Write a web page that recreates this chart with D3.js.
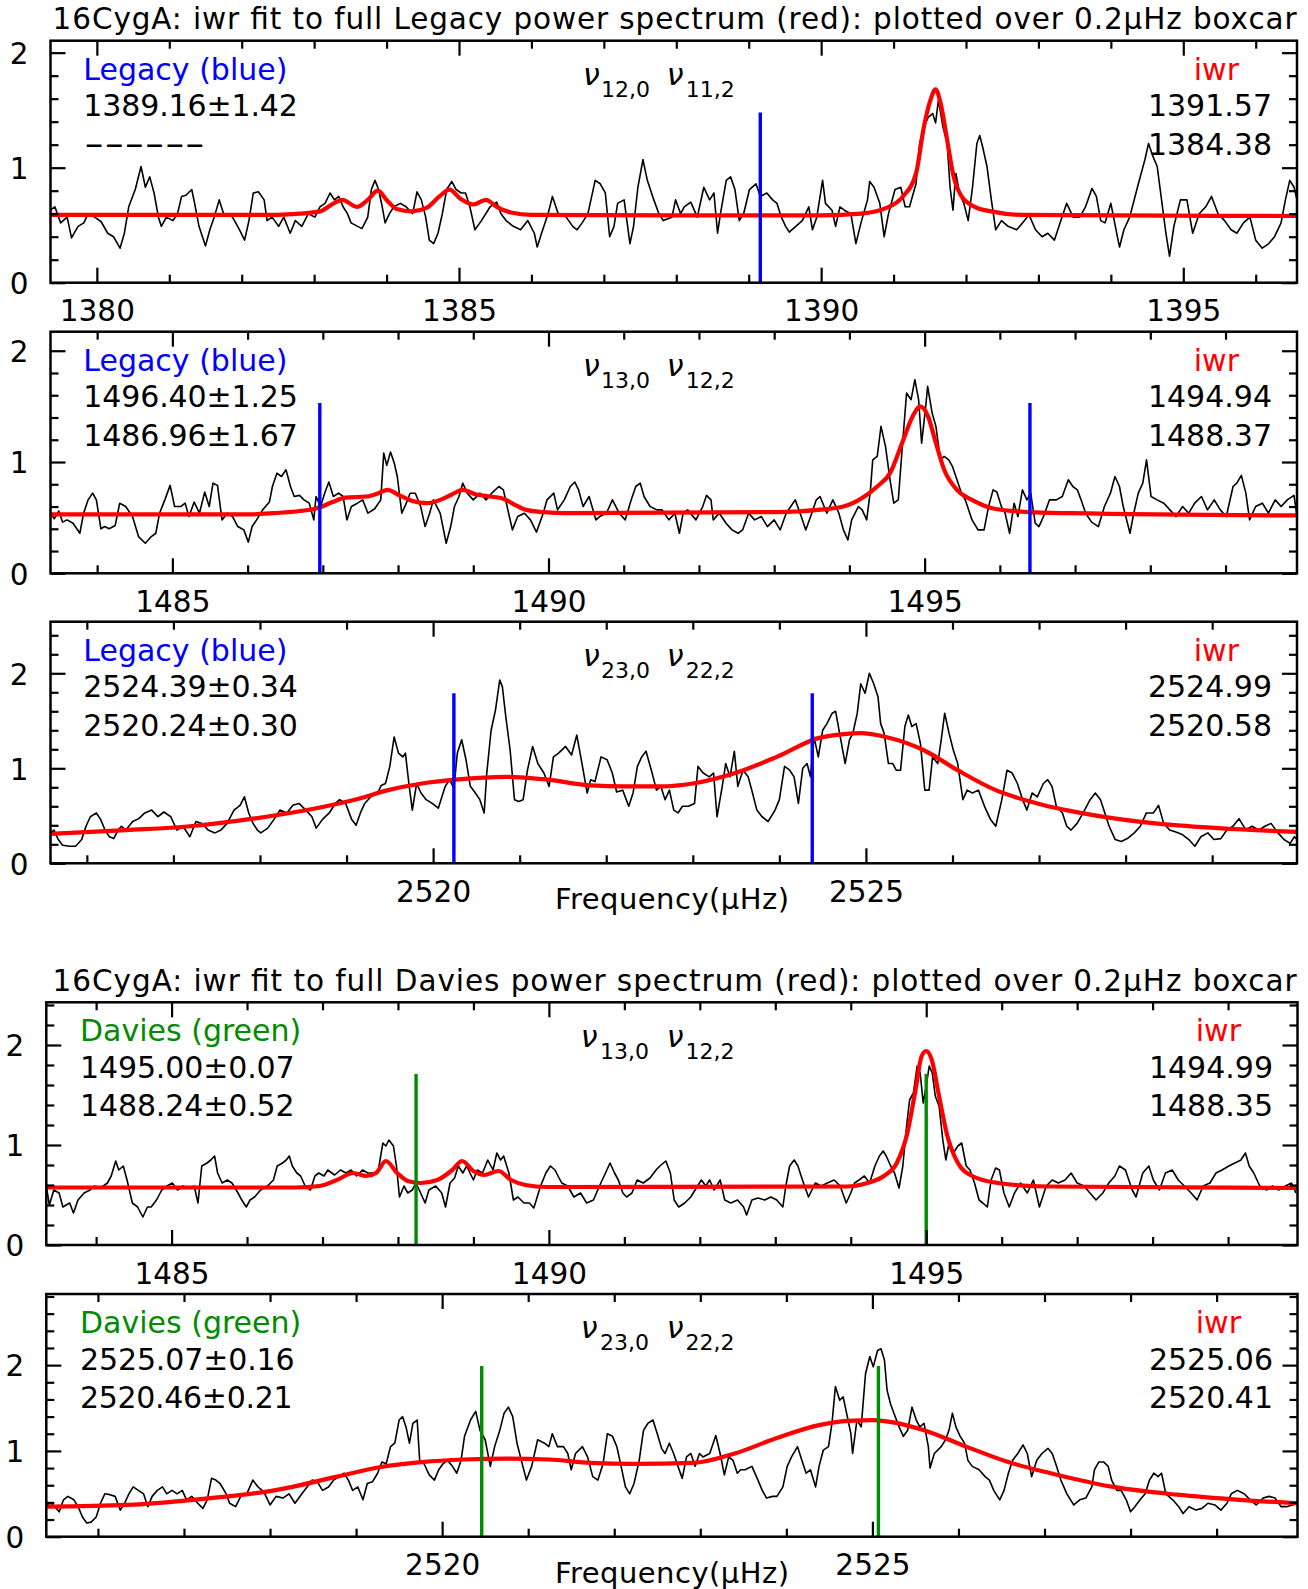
<!DOCTYPE html>
<html><head><meta charset="utf-8">
<script src="https://cdn.jsdelivr.net/npm/d3@7"></script>
<style>body{margin:0;background:#fff;} svg{display:block;}</style>
</head><body>
<svg id="c" width="1308" height="1589"></svg>
<script>
// ---------------- DATA ----------------
const titleLegacy = "16CygA: iwr fit to full Legacy power spectrum (red): plotted over 0.2\u03bcHz boxcar";
const titleDavies = "16CygA: iwr fit to full Davies power spectrum (red): plotted over 0.2\u03bcHz boxcar";
const xAxisLabel = "Frequency(\u03bcHz)";

const legendHeads = ["Legacy (blue)", "Legacy (blue)", "Legacy (blue)", "Davies (green)", "Davies (green)"];
const refValues = [["1389.16\u00b11.42", "------"], ["1496.40\u00b11.25", "1486.96\u00b11.67"], ["2524.39\u00b10.34", "2520.24\u00b10.30"], ["1495.00\u00b10.07", "1488.24\u00b10.52"], ["2525.07\u00b10.16", "2520.46\u00b10.21"]];
const iwrValues = [["1391.57", "1384.38"], ["1494.94", "1488.37"], ["2524.99", "2520.58"], ["1494.99", "1488.35"], ["2525.06", "2520.41"]];
const modeLabels = [["12,0", "11,2"], ["13,0", "12,2"], ["23,0", "22,2"], ["13,0", "12,2"], ["23,0", "22,2"]];

const xMajorTicks = [[1380, 1385, 1390, 1395], [1485, 1490, 1495], [2520, 2525], [1485, 1490, 1495], [2520, 2525]];
const yMajorTicks = [0, 1, 2];
const xDomains = [[1379.36, 1396.57], [1483.38, 1499.95], [2515.58, 2529.98], [1483.34, 1499.92], [2515.40, 2529.94]];
const yMaxes = [2.104, 2.171, 2.543, 2.427, 2.829];

// vertical markers: [frequency, height]
const marks = [
  [[1389.16, 1.48]],
  [[1486.96, 1.53], [1496.40, 1.53]],
  [[2520.24, 1.79], [2524.38, 1.79]],
  [[1488.24, 1.71], [1495.00, 1.71]],
  [[2520.46, 1.99], [2525.07, 1.99]]
];

// smoothed power spectra (black)
const spectrum1 = [[1379.36,0.63],[1379.42,0.66],[1379.50,0.52],[1379.59,0.57],[1379.65,0.39],[1379.74,0.49],[1379.82,0.52],[1379.88,0.60],[1379.97,0.57],[1380.06,0.53],[1380.15,0.43],[1380.23,0.40],[1380.32,0.30],[1380.38,0.43],[1380.44,0.66],[1380.53,0.81],[1380.61,1.01],[1380.67,0.83],[1380.73,0.92],[1380.79,0.78],[1380.85,0.57],[1380.89,0.49],[1380.96,0.57],[1381.05,0.54],[1381.11,0.59],[1381.17,0.75],[1381.23,0.76],[1381.31,0.81],[1381.35,0.69],[1381.41,0.49],[1381.50,0.32],[1381.56,0.46],[1381.62,0.57],[1381.69,0.72],[1381.75,0.60],[1381.84,0.60],[1381.90,0.54],[1381.97,0.46],[1382.04,0.37],[1382.10,0.54],[1382.16,0.78],[1382.23,0.79],[1382.31,0.72],[1382.35,0.54],[1382.42,0.57],[1382.51,0.49],[1382.58,0.57],[1382.67,0.43],[1382.74,0.54],[1382.83,0.49],[1382.92,0.60],[1383.01,0.57],[1383.08,0.66],[1383.15,0.69],[1383.22,0.78],[1383.28,0.72],[1383.34,0.75],[1383.40,0.66],[1383.46,0.60],[1383.51,0.52],[1383.60,0.49],[1383.66,0.47],[1383.74,0.57],[1383.79,0.81],[1383.84,0.89],[1383.89,0.81],[1383.94,0.66],[1383.98,0.52],[1384.04,0.60],[1384.10,0.66],[1384.19,0.69],[1384.27,0.66],[1384.36,0.60],[1384.42,0.79],[1384.48,0.72],[1384.54,0.57],[1384.59,0.37],[1384.65,0.34],[1384.71,0.43],[1384.77,0.60],[1384.83,0.81],[1384.90,0.88],[1384.96,0.81],[1385.03,0.78],[1385.09,0.78],[1385.15,0.66],[1385.22,0.46],[1385.31,0.54],[1385.43,0.66],[1385.52,0.70],[1385.58,0.60],[1385.65,0.54],[1385.75,0.49],[1385.85,0.46],[1385.95,0.54],[1386.04,0.43],[1386.08,0.31],[1386.14,0.43],[1386.23,0.60],[1386.29,0.75],[1386.37,0.60],[1386.48,0.57],[1386.57,0.49],[1386.63,0.46],[1386.70,0.52],[1386.78,0.60],[1386.88,0.89],[1386.95,0.86],[1387.02,0.78],[1387.08,0.40],[1387.14,0.49],[1387.19,0.69],[1387.28,0.72],[1387.36,0.34],[1387.41,0.49],[1387.47,0.83],[1387.54,1.07],[1387.60,0.89],[1387.69,0.72],[1387.76,0.60],[1387.82,0.54],[1387.94,0.57],[1387.99,0.72],[1388.06,0.60],[1388.11,0.66],[1388.20,0.70],[1388.29,0.57],[1388.38,0.83],[1388.46,0.72],[1388.52,0.78],[1388.57,0.43],[1388.61,0.60],[1388.69,0.89],[1388.75,0.92],[1388.81,0.81],[1388.87,0.54],[1388.93,0.60],[1389.01,0.81],[1389.10,0.86],[1389.16,0.75],[1389.25,0.78],[1389.33,0.72],[1389.39,0.69],[1389.45,0.57],[1389.51,0.49],[1389.56,0.44],[1389.65,0.49],[1389.74,0.54],[1389.83,0.66],[1389.88,0.46],[1389.94,0.57],[1390.02,0.89],[1390.06,0.69],[1390.15,0.63],[1390.20,0.49],[1390.26,0.66],[1390.32,0.63],[1390.41,0.60],[1390.48,0.34],[1390.55,0.52],[1390.64,0.72],[1390.67,0.88],[1390.73,0.83],[1390.81,0.69],[1390.87,0.40],[1390.93,0.60],[1391.02,0.81],[1391.10,0.83],[1391.16,0.66],[1391.22,0.66],[1391.31,0.86],[1391.36,1.21],[1391.42,1.36],[1391.48,1.44],[1391.54,1.47],[1391.58,1.39],[1391.62,1.59],[1391.68,1.36],[1391.74,1.21],[1391.78,0.83],[1391.82,0.63],[1391.86,0.95],[1391.91,0.78],[1391.97,0.69],[1392.03,0.54],[1392.09,0.83],[1392.15,1.21],[1392.19,1.28],[1392.23,1.18],[1392.29,1.01],[1392.35,0.72],[1392.41,0.46],[1392.49,0.54],[1392.58,0.49],[1392.70,0.46],[1392.78,0.52],[1392.87,0.59],[1392.96,0.46],[1393.05,0.40],[1393.13,0.43],[1393.22,0.37],[1393.31,0.54],[1393.39,0.69],[1393.48,0.57],[1393.57,0.57],[1393.65,0.66],[1393.74,0.82],[1393.80,0.75],[1393.86,0.54],[1393.92,0.52],[1394.00,0.69],[1394.09,0.40],[1394.12,0.31],[1394.18,0.46],[1394.26,0.57],[1394.38,0.86],[1394.47,1.07],[1394.52,1.21],[1394.58,1.10],[1394.64,1.01],[1394.70,0.72],[1394.76,0.43],[1394.81,0.23],[1394.87,0.49],[1394.96,0.72],[1395.05,0.72],[1395.13,0.43],[1395.22,0.60],[1395.31,0.66],[1395.39,0.75],[1395.48,0.60],[1395.57,0.54],[1395.66,0.46],[1395.74,0.43],[1395.83,0.52],[1395.92,0.57],[1396.00,0.37],[1396.09,0.30],[1396.18,0.34],[1396.26,0.40],[1396.35,0.52],[1396.41,0.72],[1396.47,0.89],[1396.53,0.83],[1396.57,0.72]];

const spectrum2 = [[1483.38,0.54],[1483.43,0.49],[1483.49,0.56],[1483.54,0.46],[1483.60,0.48],[1483.68,0.45],[1483.77,0.36],[1483.82,0.54],[1483.88,0.66],[1483.94,0.72],[1483.99,0.66],[1484.05,0.40],[1484.10,0.42],[1484.16,0.40],[1484.24,0.43],[1484.30,0.63],[1484.38,0.60],[1484.47,0.51],[1484.55,0.33],[1484.64,0.27],[1484.72,0.33],[1484.78,0.36],[1484.83,0.54],[1484.90,0.66],[1484.97,0.79],[1485.03,0.60],[1485.11,0.60],[1485.17,0.63],[1485.22,0.51],[1485.29,0.64],[1485.36,0.54],[1485.43,0.73],[1485.49,0.60],[1485.54,0.81],[1485.60,0.79],[1485.66,0.48],[1485.73,0.54],[1485.80,0.51],[1485.87,0.42],[1485.95,0.39],[1486.01,0.28],[1486.06,0.42],[1486.12,0.48],[1486.20,0.57],[1486.29,0.64],[1486.33,0.78],[1486.39,0.90],[1486.45,0.87],[1486.51,0.93],[1486.57,0.78],[1486.62,0.69],[1486.69,0.70],[1486.75,0.66],[1486.82,0.63],[1486.88,0.48],[1486.91,0.69],[1486.97,0.60],[1487.03,0.73],[1487.08,0.82],[1487.14,0.69],[1487.21,0.72],[1487.27,0.69],[1487.32,0.48],[1487.38,0.60],[1487.46,0.63],[1487.53,0.66],[1487.60,0.54],[1487.69,0.58],[1487.77,0.66],[1487.81,1.08],[1487.85,0.97],[1487.90,1.09],[1487.95,0.99],[1487.99,0.87],[1488.05,0.54],[1488.11,0.63],[1488.16,0.72],[1488.23,0.72],[1488.30,0.60],[1488.36,0.42],[1488.42,0.54],[1488.47,0.66],[1488.56,0.54],[1488.64,0.27],[1488.70,0.42],[1488.75,0.60],[1488.81,0.69],[1488.86,0.81],[1488.92,0.72],[1489.00,0.66],[1489.09,0.72],[1489.17,0.66],[1489.26,0.73],[1489.34,0.78],[1489.40,0.75],[1489.45,0.60],[1489.52,0.39],[1489.59,0.51],[1489.68,0.54],[1489.76,0.48],[1489.84,0.37],[1489.93,0.54],[1489.98,0.66],[1490.07,0.72],[1490.12,0.57],[1490.21,0.66],[1490.29,0.78],[1490.35,0.82],[1490.40,0.75],[1490.46,0.60],[1490.54,0.69],[1490.63,0.48],[1490.68,0.51],[1490.77,0.54],[1490.85,0.66],[1490.94,0.54],[1491.02,0.48],[1491.10,0.66],[1491.16,0.78],[1491.22,0.81],[1491.27,0.69],[1491.35,0.60],[1491.44,0.57],[1491.51,0.57],[1491.60,0.48],[1491.68,0.54],[1491.74,0.36],[1491.79,0.54],[1491.85,0.57],[1491.96,0.48],[1492.05,0.60],[1492.10,0.70],[1492.16,0.66],[1492.19,0.48],[1492.27,0.54],[1492.36,0.45],[1492.44,0.39],[1492.52,0.36],[1492.58,0.39],[1492.66,0.54],[1492.74,0.48],[1492.83,0.51],[1492.91,0.42],[1493.00,0.48],[1493.08,0.39],[1493.16,0.54],[1493.22,0.60],[1493.28,0.66],[1493.36,0.51],[1493.42,0.39],[1493.50,0.54],[1493.56,0.66],[1493.61,0.69],[1493.70,0.54],[1493.78,0.66],[1493.86,0.54],[1493.92,0.39],[1493.98,0.30],[1494.03,0.48],[1494.12,0.60],[1494.17,0.57],[1494.23,0.48],[1494.28,0.75],[1494.31,1.02],[1494.37,1.05],[1494.42,1.32],[1494.48,1.14],[1494.54,0.84],[1494.59,0.63],[1494.65,0.66],[1494.70,1.11],[1494.76,1.62],[1494.82,1.56],[1494.87,1.74],[1494.92,1.56],[1494.96,1.17],[1495.01,1.47],[1495.04,1.68],[1495.10,1.44],[1495.15,1.32],[1495.21,1.02],[1495.26,1.05],[1495.32,1.02],[1495.37,0.96],[1495.43,0.84],[1495.49,0.72],[1495.54,0.66],[1495.63,0.48],[1495.71,0.39],[1495.79,0.39],[1495.85,0.60],[1495.91,0.75],[1495.96,0.73],[1496.02,0.60],[1496.07,0.54],[1496.13,0.36],[1496.19,0.63],[1496.24,0.51],[1496.30,0.75],[1496.36,0.66],[1496.41,0.72],[1496.47,0.45],[1496.52,0.42],[1496.58,0.51],[1496.66,0.66],[1496.75,0.66],[1496.83,0.69],[1496.91,0.84],[1496.97,0.78],[1497.03,0.75],[1497.08,0.66],[1497.14,0.54],[1497.22,0.46],[1497.31,0.42],[1497.39,0.60],[1497.47,0.72],[1497.53,0.87],[1497.59,0.78],[1497.64,0.60],[1497.73,0.36],[1497.78,0.54],[1497.84,0.72],[1497.90,0.81],[1497.95,1.02],[1498.01,0.69],[1498.09,0.66],[1498.18,0.63],[1498.26,0.57],[1498.34,0.51],[1498.43,0.60],[1498.51,0.54],[1498.59,0.63],[1498.68,0.69],[1498.76,0.57],[1498.85,0.66],[1498.93,0.57],[1499.01,0.51],[1499.10,0.78],[1499.15,0.81],[1499.21,0.88],[1499.27,0.72],[1499.32,0.48],[1499.40,0.60],[1499.49,0.63],[1499.57,0.54],[1499.66,0.66],[1499.74,0.60],[1499.82,0.66],[1499.91,0.70],[1499.95,0.51]];

const spectrum3 = [[2515.58,0.32],[2515.62,0.35],[2515.67,0.25],[2515.72,0.19],[2515.80,0.18],[2515.87,0.18],[2515.94,0.25],[2515.99,0.39],[2516.04,0.49],[2516.11,0.53],[2516.16,0.46],[2516.21,0.35],[2516.26,0.28],[2516.31,0.26],[2516.36,0.35],[2516.40,0.39],[2516.45,0.35],[2516.53,0.44],[2516.60,0.47],[2516.67,0.53],[2516.75,0.56],[2516.82,0.49],[2516.89,0.54],[2516.97,0.49],[2517.04,0.35],[2517.11,0.39],[2517.19,0.28],[2517.26,0.44],[2517.33,0.42],[2517.40,0.35],[2517.48,0.32],[2517.55,0.35],[2517.62,0.42],[2517.70,0.56],[2517.77,0.61],[2517.82,0.70],[2517.87,0.53],[2517.92,0.42],[2517.97,0.35],[2518.01,0.32],[2518.09,0.37],[2518.16,0.46],[2518.23,0.56],[2518.31,0.53],[2518.38,0.61],[2518.45,0.63],[2518.53,0.56],[2518.60,0.49],[2518.65,0.37],[2518.72,0.46],[2518.80,0.53],[2518.87,0.63],[2518.92,0.67],[2518.99,0.63],[2519.06,0.46],[2519.11,0.40],[2519.16,0.53],[2519.21,0.63],[2519.28,0.70],[2519.36,0.74],[2519.40,0.82],[2519.45,0.84],[2519.50,1.02],[2519.55,1.33],[2519.60,1.16],[2519.65,1.12],[2519.68,1.16],[2519.72,0.84],[2519.76,0.56],[2519.81,0.84],[2519.86,0.74],[2519.92,0.67],[2519.99,0.63],[2520.06,0.58],[2520.14,0.81],[2520.19,0.88],[2520.24,0.79],[2520.28,1.16],[2520.33,1.30],[2520.38,1.09],[2520.43,0.81],[2520.48,0.75],[2520.54,0.67],[2520.59,0.53],[2520.62,0.95],[2520.67,1.40],[2520.72,1.61],[2520.77,1.93],[2520.80,1.86],[2520.84,1.54],[2520.89,1.19],[2520.94,0.67],[2520.99,0.65],[2521.04,0.67],[2521.09,0.98],[2521.15,1.23],[2521.21,1.05],[2521.28,0.95],[2521.34,0.81],[2521.39,1.12],[2521.45,1.16],[2521.53,1.23],[2521.60,1.14],[2521.66,1.35],[2521.72,1.05],[2521.78,0.74],[2521.82,0.88],[2521.87,0.86],[2521.94,1.12],[2522.01,1.09],[2522.07,0.95],[2522.12,0.75],[2522.19,0.77],[2522.26,0.60],[2522.31,0.74],[2522.36,1.02],[2522.41,1.12],[2522.46,1.18],[2522.53,0.95],[2522.58,0.77],[2522.63,0.81],[2522.68,0.67],[2522.73,0.77],[2522.78,0.56],[2522.83,0.53],[2522.88,0.60],[2522.95,0.60],[2523.02,0.63],[2523.06,1.02],[2523.12,0.95],[2523.19,0.91],[2523.24,0.95],[2523.28,0.49],[2523.34,0.81],[2523.38,1.05],[2523.43,0.91],[2523.48,1.18],[2523.52,0.81],[2523.58,0.98],[2523.64,0.91],[2523.69,0.74],[2523.74,0.56],[2523.80,0.49],[2523.87,0.44],[2523.95,0.56],[2524.00,0.67],[2524.06,1.02],[2524.12,0.98],[2524.17,0.91],[2524.22,0.63],[2524.27,1.00],[2524.32,1.05],[2524.36,0.91],[2524.40,1.33],[2524.45,1.12],[2524.50,1.40],[2524.55,1.47],[2524.61,1.58],[2524.65,1.60],[2524.71,1.30],[2524.76,1.05],[2524.81,1.30],[2524.85,1.37],[2524.90,1.58],[2524.94,1.89],[2524.99,1.79],[2525.04,2.00],[2525.09,1.89],[2525.14,1.75],[2525.17,1.47],[2525.21,1.37],[2525.26,1.05],[2525.31,1.05],[2525.35,0.98],[2525.40,0.98],[2525.45,1.44],[2525.49,1.56],[2525.53,1.44],[2525.58,1.47],[2525.63,1.26],[2525.68,0.77],[2525.73,0.77],[2525.77,1.12],[2525.83,1.05],[2525.87,1.30],[2525.91,1.58],[2525.96,1.37],[2526.01,1.19],[2526.06,1.05],[2526.12,0.67],[2526.17,0.77],[2526.23,0.74],[2526.30,0.77],[2526.37,0.60],[2526.44,0.46],[2526.50,0.39],[2526.57,0.67],[2526.63,0.98],[2526.69,0.95],[2526.75,0.84],[2526.81,0.67],[2526.86,0.56],[2526.92,0.74],[2526.98,0.70],[2527.05,0.84],[2527.10,0.88],[2527.15,0.81],[2527.20,0.60],[2527.27,0.53],[2527.32,0.39],[2527.37,0.35],[2527.44,0.42],[2527.51,0.53],[2527.59,0.67],[2527.65,0.74],[2527.71,0.67],[2527.76,0.53],[2527.81,0.39],[2527.88,0.25],[2527.95,0.23],[2528.02,0.26],[2528.10,0.32],[2528.17,0.39],[2528.24,0.53],[2528.32,0.53],[2528.38,0.61],[2528.44,0.42],[2528.51,0.35],[2528.58,0.33],[2528.66,0.30],[2528.73,0.25],[2528.80,0.18],[2528.87,0.28],[2528.95,0.32],[2529.02,0.25],[2529.10,0.26],[2529.17,0.35],[2529.24,0.39],[2529.31,0.47],[2529.39,0.35],[2529.46,0.39],[2529.54,0.35],[2529.61,0.39],[2529.68,0.42],[2529.76,0.32],[2529.83,0.25],[2529.90,0.21],[2529.95,0.28],[2529.98,0.25]];

const spectrum4 = [[1483.34,0.59],[1483.38,0.40],[1483.44,0.55],[1483.51,0.52],[1483.56,0.38],[1483.65,0.42],[1483.70,0.32],[1483.76,0.45],[1483.84,0.52],[1483.92,0.55],[1483.98,0.59],[1484.06,0.57],[1484.15,0.62],[1484.20,0.69],[1484.26,0.84],[1484.30,0.75],[1484.36,0.79],[1484.41,0.65],[1484.48,0.42],[1484.55,0.38],[1484.62,0.28],[1484.68,0.38],[1484.73,0.38],[1484.80,0.45],[1484.87,0.55],[1484.94,0.59],[1485.01,0.62],[1485.08,0.55],[1485.15,0.59],[1485.23,0.57],[1485.30,0.59],[1485.35,0.42],[1485.40,0.79],[1485.47,0.82],[1485.52,0.85],[1485.57,0.89],[1485.61,0.72],[1485.67,0.62],[1485.74,0.65],[1485.80,0.62],[1485.88,0.52],[1485.93,0.45],[1485.99,0.38],[1486.04,0.45],[1486.10,0.48],[1486.18,0.55],[1486.27,0.59],[1486.35,0.65],[1486.40,0.79],[1486.47,0.82],[1486.52,0.85],[1486.56,0.89],[1486.60,0.79],[1486.66,0.72],[1486.71,0.69],[1486.77,0.59],[1486.84,0.55],[1486.90,0.69],[1486.95,0.72],[1487.02,0.69],[1487.07,0.75],[1487.16,0.70],[1487.24,0.75],[1487.31,0.72],[1487.38,0.75],[1487.45,0.69],[1487.53,0.75],[1487.60,0.72],[1487.69,0.72],[1487.74,0.75],[1487.80,1.02],[1487.84,0.99],[1487.88,1.05],[1487.94,0.99],[1487.98,0.79],[1488.02,0.48],[1488.08,0.59],[1488.13,0.52],[1488.19,0.55],[1488.24,0.62],[1488.30,0.52],[1488.36,0.42],[1488.41,0.55],[1488.50,0.59],[1488.58,0.52],[1488.63,0.38],[1488.69,0.62],[1488.75,0.67],[1488.80,0.79],[1488.86,0.72],[1488.91,0.79],[1489.00,0.65],[1489.05,0.75],[1489.12,0.72],[1489.19,0.85],[1489.26,0.75],[1489.31,0.92],[1489.36,0.85],[1489.40,0.89],[1489.47,0.72],[1489.53,0.45],[1489.59,0.48],[1489.67,0.42],[1489.74,0.42],[1489.80,0.37],[1489.89,0.59],[1489.96,0.72],[1490.02,0.79],[1490.08,0.75],[1490.17,0.62],[1490.25,0.59],[1490.33,0.48],[1490.42,0.52],[1490.50,0.42],[1490.59,0.45],[1490.67,0.59],[1490.75,0.72],[1490.81,0.82],[1490.87,0.72],[1490.92,0.65],[1490.98,0.52],[1491.03,0.48],[1491.10,0.52],[1491.17,0.65],[1491.25,0.62],[1491.34,0.67],[1491.42,0.75],[1491.47,0.79],[1491.55,0.84],[1491.61,0.72],[1491.66,0.45],[1491.72,0.38],[1491.80,0.42],[1491.88,0.48],[1491.97,0.59],[1492.02,0.65],[1492.08,0.59],[1492.13,0.65],[1492.19,0.55],[1492.27,0.65],[1492.33,0.45],[1492.41,0.42],[1492.50,0.45],[1492.58,0.38],[1492.62,0.30],[1492.69,0.45],[1492.77,0.47],[1492.86,0.45],[1492.94,0.48],[1493.02,0.45],[1493.10,0.38],[1493.14,0.59],[1493.19,0.79],[1493.25,0.85],[1493.30,0.79],[1493.36,0.65],[1493.44,0.48],[1493.53,0.62],[1493.61,0.59],[1493.69,0.62],[1493.78,0.65],[1493.86,0.59],[1493.94,0.42],[1494.00,0.52],[1494.05,0.62],[1494.11,0.65],[1494.18,0.69],[1494.25,0.62],[1494.32,0.79],[1494.38,0.89],[1494.43,0.94],[1494.47,0.89],[1494.53,0.79],[1494.58,0.72],[1494.64,0.57],[1494.69,0.79],[1494.74,1.19],[1494.78,1.45],[1494.83,1.52],[1494.88,1.79],[1494.92,1.72],[1494.96,1.42],[1495.00,1.59],[1495.04,1.79],[1495.08,1.72],[1495.12,1.49],[1495.17,1.39],[1495.22,1.05],[1495.26,0.85],[1495.31,1.05],[1495.36,0.92],[1495.42,0.99],[1495.47,1.02],[1495.53,0.79],[1495.58,0.75],[1495.64,0.62],[1495.70,0.45],[1495.75,0.42],[1495.81,0.38],[1495.86,0.65],[1495.92,0.77],[1495.97,0.75],[1496.03,0.52],[1496.10,0.38],[1496.17,0.52],[1496.25,0.62],[1496.34,0.52],[1496.42,0.65],[1496.50,0.38],[1496.59,0.59],[1496.67,0.65],[1496.75,0.62],[1496.84,0.65],[1496.92,0.72],[1497.00,0.62],[1497.09,0.59],[1497.17,0.52],[1497.25,0.45],[1497.34,0.52],[1497.42,0.62],[1497.50,0.69],[1497.56,0.79],[1497.64,0.75],[1497.73,0.55],[1497.78,0.48],[1497.87,0.72],[1497.95,0.79],[1498.01,0.65],[1498.09,0.55],[1498.17,0.72],[1498.26,0.75],[1498.34,0.65],[1498.42,0.59],[1498.51,0.52],[1498.59,0.45],[1498.67,0.59],[1498.76,0.62],[1498.84,0.72],[1498.92,0.75],[1499.01,0.79],[1499.09,0.82],[1499.17,0.85],[1499.23,0.92],[1499.28,0.79],[1499.34,0.72],[1499.42,0.59],[1499.51,0.55],[1499.59,0.59],[1499.67,0.55],[1499.76,0.59],[1499.84,0.62],[1499.90,0.52]];

const spectrum5 = [[2515.40,0.37],[2515.45,0.39],[2515.50,0.35],[2515.55,0.29],[2515.60,0.43],[2515.65,0.47],[2515.72,0.43],[2515.77,0.35],[2515.82,0.23],[2515.87,0.16],[2515.92,0.17],[2515.98,0.23],[2516.03,0.39],[2516.08,0.50],[2516.14,0.49],[2516.20,0.47],[2516.26,0.31],[2516.31,0.39],[2516.36,0.50],[2516.41,0.58],[2516.47,0.54],[2516.53,0.50],[2516.58,0.35],[2516.63,0.47],[2516.69,0.54],[2516.75,0.58],[2516.80,0.50],[2516.86,0.54],[2516.92,0.50],[2516.98,0.54],[2517.03,0.43],[2517.09,0.47],[2517.16,0.39],[2517.22,0.33],[2517.27,0.43],[2517.32,0.68],[2517.37,0.66],[2517.42,0.62],[2517.49,0.50],[2517.53,0.39],[2517.60,0.35],[2517.66,0.47],[2517.73,0.50],[2517.80,0.66],[2517.86,0.58],[2517.93,0.52],[2518.00,0.37],[2518.07,0.47],[2518.15,0.45],[2518.22,0.50],[2518.29,0.39],[2518.37,0.50],[2518.43,0.58],[2518.49,0.66],[2518.55,0.64],[2518.61,0.54],[2518.68,0.58],[2518.74,0.66],[2518.80,0.70],[2518.86,0.74],[2518.91,0.66],[2518.96,0.54],[2519.02,0.58],[2519.08,0.43],[2519.13,0.62],[2519.19,0.64],[2519.25,0.74],[2519.30,0.87],[2519.35,0.85],[2519.40,1.05],[2519.45,1.09],[2519.50,1.36],[2519.54,1.40],[2519.58,1.28],[2519.62,1.09],[2519.66,1.32],[2519.71,1.36],[2519.74,0.87],[2519.79,0.85],[2519.85,0.72],[2519.91,0.66],[2519.96,0.78],[2520.01,0.85],[2520.06,0.89],[2520.12,0.82],[2520.17,0.74],[2520.22,0.89],[2520.26,1.17],[2520.33,1.36],[2520.39,1.46],[2520.44,1.24],[2520.50,1.13],[2520.56,0.82],[2520.61,1.05],[2520.67,1.24],[2520.72,1.44],[2520.77,1.51],[2520.82,1.40],[2520.87,1.09],[2520.92,0.89],[2520.98,0.66],[2521.04,0.82],[2521.11,1.13],[2521.19,1.09],[2521.24,1.05],[2521.28,1.20],[2521.34,1.05],[2521.41,1.05],[2521.46,0.97],[2521.50,0.78],[2521.55,0.97],[2521.63,1.05],[2521.69,0.93],[2521.75,0.70],[2521.81,0.66],[2521.87,0.85],[2521.92,1.20],[2521.98,1.17],[2522.03,1.05],[2522.08,0.82],[2522.13,0.58],[2522.18,0.50],[2522.23,0.62],[2522.29,0.89],[2522.34,1.24],[2522.39,1.32],[2522.45,1.36],[2522.50,1.20],[2522.55,1.03],[2522.59,0.97],[2522.64,1.09],[2522.69,0.97],[2522.74,0.82],[2522.79,0.68],[2522.84,0.93],[2522.89,0.97],[2522.94,0.82],[2522.99,0.97],[2523.03,0.93],[2523.11,0.97],[2523.18,1.18],[2523.23,0.97],[2523.28,0.72],[2523.33,0.93],[2523.38,0.89],[2523.43,0.74],[2523.47,0.78],[2523.52,0.78],[2523.60,0.82],[2523.67,0.66],[2523.72,0.54],[2523.77,0.45],[2523.84,0.47],[2523.89,0.47],[2523.96,0.58],[2524.01,0.82],[2524.06,0.93],[2524.13,1.05],[2524.18,0.89],[2524.23,0.74],[2524.28,0.78],[2524.34,0.58],[2524.38,0.82],[2524.43,1.01],[2524.49,1.05],[2524.53,1.32],[2524.57,1.75],[2524.62,1.59],[2524.66,1.63],[2524.70,1.44],[2524.75,1.20],[2524.77,0.97],[2524.82,1.36],[2524.87,1.28],[2524.92,1.90],[2524.97,2.10],[2525.01,1.98],[2525.06,2.17],[2525.10,2.19],[2525.14,2.06],[2525.17,1.71],[2525.21,1.55],[2525.25,1.44],[2525.31,1.28],[2525.36,1.17],[2525.41,1.24],[2525.46,1.51],[2525.51,1.36],[2525.55,1.28],[2525.60,1.32],[2525.65,1.05],[2525.67,0.80],[2525.72,0.97],[2525.80,1.05],[2525.85,1.13],[2525.89,1.24],[2525.93,1.44],[2525.97,1.28],[2526.02,1.17],[2526.07,1.09],[2526.11,0.89],[2526.16,0.82],[2526.24,0.78],[2526.31,0.70],[2526.36,0.66],[2526.41,0.54],[2526.48,0.43],[2526.53,0.54],[2526.58,0.74],[2526.63,0.89],[2526.69,0.97],[2526.75,1.07],[2526.80,0.97],[2526.85,0.70],[2526.91,0.89],[2526.97,0.97],[2527.04,1.03],[2527.09,0.97],[2527.14,0.82],[2527.19,0.66],[2527.26,0.50],[2527.34,0.37],[2527.41,0.43],[2527.48,0.45],[2527.55,0.58],[2527.58,0.78],[2527.63,0.87],[2527.69,0.87],[2527.74,0.82],[2527.78,0.66],[2527.84,0.54],[2527.89,0.54],[2527.95,0.43],[2528.00,0.29],[2528.05,0.35],[2528.11,0.43],[2528.17,0.50],[2528.22,0.66],[2528.27,0.74],[2528.32,0.70],[2528.36,0.74],[2528.41,0.50],[2528.49,0.43],[2528.56,0.35],[2528.61,0.27],[2528.68,0.35],[2528.76,0.31],[2528.83,0.33],[2528.90,0.39],[2528.98,0.37],[2529.05,0.31],[2529.12,0.39],[2529.17,0.50],[2529.24,0.54],[2529.32,0.50],[2529.39,0.43],[2529.46,0.37],[2529.54,0.45],[2529.61,0.47],[2529.68,0.45],[2529.75,0.35],[2529.81,0.35],[2529.88,0.37],[2529.94,0.39]];

// iwr fits (red)
const fit1 = [[1379.36,0.59],[1382.5,0.59],[1382.8,0.60],[1383.08,0.62],[1383.27,0.69],[1383.39,0.72],[1383.59,0.66],[1383.74,0.72],[1383.88,0.80],[1384.0,0.72],[1384.14,0.64],[1384.35,0.62],[1384.55,0.65],[1384.73,0.75],[1384.87,0.81],[1385.02,0.73],[1385.2,0.68],[1385.37,0.72],[1385.52,0.66],[1385.72,0.61],[1386.0,0.59],[1388.0,0.585],[1390.0,0.585],[1390.55,0.60],[1390.9,0.65],[1391.13,0.75],[1391.31,0.95],[1391.42,1.36],[1391.51,1.59],[1391.58,1.68],[1391.65,1.56],[1391.74,1.24],[1391.83,0.92],[1391.94,0.75],[1392.12,0.66],[1392.35,0.62],[1392.76,0.59],[1396.57,0.58]];
const fit2 = [[1483.38,0.53],[1486.06,0.53],[1486.34,0.54],[1486.9,0.58],[1487.13,0.64],[1487.3,0.68],[1487.58,0.69],[1487.74,0.72],[1487.86,0.75],[1488.02,0.70],[1488.19,0.65],[1488.39,0.63],[1488.56,0.66],[1488.72,0.71],[1488.86,0.75],[1489.03,0.71],[1489.23,0.69],[1489.40,0.67],[1489.54,0.62],[1489.70,0.57],[1489.93,0.55],[1490.26,0.54],[1493.02,0.55],[1493.58,0.57],[1493.92,0.60],[1494.2,0.69],[1494.37,0.78],[1494.54,0.90],[1494.70,1.17],[1494.84,1.41],[1494.94,1.50],[1495.04,1.42],[1495.15,1.17],[1495.26,0.93],[1495.43,0.75],[1495.63,0.66],[1495.93,0.58],[1496.38,0.55],[1496.94,0.54],[1499.95,0.52]];
const fit3 = [[2515.58,0.31],[2516.45,0.35],[2517.19,0.39],[2517.92,0.47],[2518.65,0.58],[2519.14,0.68],[2519.48,0.77],[2519.87,0.84],[2520.26,0.88],[2520.84,0.91],[2521.33,0.88],[2521.82,0.82],[2522.21,0.81],[2522.64,0.81],[2523.0,0.84],[2523.49,0.95],[2523.97,1.12],[2524.46,1.32],[2524.75,1.36],[2524.94,1.37],[2525.23,1.33],[2525.67,1.19],[2526.06,0.98],[2526.50,0.77],[2526.98,0.63],[2527.61,0.51],[2528.34,0.42],[2529.07,0.37],[2529.98,0.33]];
const fit4 = [[1483.34,0.575],[1486.63,0.575],[1486.96,0.59],[1487.19,0.65],[1487.41,0.72],[1487.58,0.69],[1487.71,0.72],[1487.84,0.84],[1487.99,0.72],[1488.13,0.64],[1488.30,0.62],[1488.52,0.65],[1488.72,0.75],[1488.85,0.84],[1489.0,0.74],[1489.14,0.70],[1489.33,0.74],[1489.50,0.65],[1489.69,0.60],[1489.97,0.58],[1493.94,0.585],[1494.22,0.62],[1494.44,0.69],[1494.61,0.82],[1494.75,1.12],[1494.86,1.56],[1494.94,1.89],[1495.0,1.94],[1495.07,1.86],[1495.17,1.49],[1495.28,1.09],[1495.42,0.82],[1495.61,0.69],[1495.95,0.62],[1496.61,0.585],[1499.92,0.57]];
const fit5 = [[2515.40,0.35],[2516.33,0.37],[2517.31,0.45],[2518.05,0.54],[2518.78,0.70],[2519.27,0.81],[2519.76,0.87],[2520.25,0.90],[2520.75,0.91],[2521.24,0.90],[2521.73,0.86],[2522.22,0.85],[2522.91,0.86],[2523.40,0.97],[2523.89,1.15],[2524.38,1.30],[2524.72,1.35],[2525.01,1.36],[2525.26,1.33],[2525.60,1.24],[2526.09,1.05],[2526.58,0.87],[2527.07,0.74],[2527.80,0.58],[2528.54,0.49],[2529.27,0.43],[2529.94,0.39]];

const spectra = [spectrum1, spectrum2, spectrum3, spectrum4, spectrum5];
const fits = [fit1, fit2, fit3, fit4, fit5];

// ---------------- LAYOUT ----------------
const FONT = '"DejaVu Sans", "Liberation Sans", sans-serif';
const BLUE = "#0000ff", RED = "#ff0000", GREEN = "#008c00";
const frames = [
  {l: 50.5, r: 1297, t: 40.7, b: 282.7},
  {l: 50.5, r: 1297, t: 331.7, b: 573.3},
  {l: 50.5, r: 1297, t: 621.7, b: 863.3},
  {l: 46.3, r: 1297.5, t: 1002.3, b: 1245},
  {l: 46.3, r: 1297.5, t: 1294, b: 1536.7}
];
const legX = [83.3, 83.3, 83.3, 80, 80];
const valLen = [[214.6, 121], [214.6, 214.6], [214.6, 214.6], [214.6, 214.6], [214.6, 212.5]];
const nuPos = [[583, 601, 666.8, 685.8], [583, 601, 666.8, 685.8], [583, 601, 666.8, 685.8], [580.8, 600, 666.8, 685.5], [580.8, 600, 666.8, 685.5]];
const rightEnd = [[1239, 1272], [1239, 1272], [1239, 1272], [1241, 1273], [1241, 1273]];
const markColor = [BLUE, BLUE, BLUE, GREEN, GREEN];
const headColor = [BLUE, BLUE, BLUE, GREEN, GREEN];

const svg = d3.select("#c");
svg.append("rect").attr("width", 1308).attr("height", 1589).attr("fill", "#fff");

function txt(sel, s, x, y, opt = {}) {
  const t = sel.append("text").attr("x", x).attr("y", y).text(s)
    .attr("font-family", FONT).attr("font-size", opt.size || 30)
    .attr("fill", opt.fill || "#000");
  if (opt.anchor) t.attr("text-anchor", opt.anchor);
  if (opt.len) t.attr("textLength", opt.len).attr("lengthAdjust", opt.adj || "spacing");
  if (opt.italic) t.attr("font-style", "italic");
  return t;
}

// titles
txt(svg, titleLegacy, 52.6, 29.3, {size: 29.5, len: 1244});
txt(svg, titleDavies, 52.6, 990.7, {size: 29.5, len: 1244});

frames.forEach((f, i) => {
  const x = d3.scaleLinear().domain(xDomains[i]).range([f.l, f.r]);
  const y = d3.scaleLinear().domain([0, yMaxes[i]]).range([f.b, f.t]);
  const g = svg.append("g");

  const clipId = "clip" + i;
  svg.append("clipPath").attr("id", clipId).append("rect")
    .attr("x", f.l).attr("y", f.t).attr("width", f.r - f.l).attr("height", f.b - f.t);
  const plot = g.append("g").attr("clip-path", `url(#${clipId})`);

  plot.append("path").datum(spectra[i])
    .attr("fill", "none").attr("stroke", "#000").attr("stroke-width", 1.6)
    .attr("stroke-linejoin", "round")
    .attr("d", d3.line().x(d => x(d[0])).y(d => y(d[1])));

  plot.append("path").datum(fits[i])
    .attr("fill", "none").attr("stroke", RED).attr("stroke-width", 4.2)
    .attr("stroke-linejoin", "round")
    .attr("d", d3.line().curve(d3.curveMonotoneX).x(d => x(d[0])).y(d => y(d[1])));

  plot.selectAll("line.mark").data(marks[i]).join("line").attr("class", "mark")
    .attr("x1", d => x(d[0])).attr("x2", d => x(d[0]))
    .attr("y1", y(0)).attr("y2", d => y(d[1]))
    .attr("stroke", markColor[i]).attr("stroke-width", 3.4);

  // axes (inward ticks on all four sides)
  const majX = xMajorTicks[i];
  const minX = d3.range(Math.ceil(xDomains[i][0]), Math.floor(xDomains[i][1]) + 1).filter(v => !majX.includes(v));
  const yMinor = d3.range(0, yMaxes[i], 0.2).map(v => +v.toFixed(1)).filter(v => !yMajorTicks.includes(v));

  const styleAxis = a => {
    a.select(".domain").remove();
    a.selectAll(".tick line").attr("stroke", "#000").attr("stroke-width", 2.2);
    a.attr("font-family", FONT).attr("font-size", 29.5);
  };

  g.append("g").attr("transform", `translate(0,${f.b})`)
    .call(d3.axisBottom(x).tickValues(majX).tickSize(-15).tickFormat(d3.format("d")))
    .call(styleAxis)
    .call(a => a.selectAll("text").attr("y", 38.5).attr("dy", null).attr("fill", "#000"));
  g.append("g").attr("transform", `translate(0,${f.b})`)
    .call(d3.axisBottom(x).tickValues(minX).tickSize(-8).tickFormat(""))
    .call(styleAxis);
  g.append("g").attr("transform", `translate(0,${f.t})`)
    .call(d3.axisTop(x).tickValues(majX).tickSize(-15).tickFormat(""))
    .call(styleAxis);
  g.append("g").attr("transform", `translate(0,${f.t})`)
    .call(d3.axisTop(x).tickValues(minX).tickSize(-8).tickFormat(""))
    .call(styleAxis);

  g.append("g").attr("transform", `translate(${f.l},0)`)
    .call(d3.axisLeft(y).tickValues(yMajorTicks).tickSize(-15).tickFormat(d3.format("d")))
    .call(styleAxis)
    .call(a => a.selectAll("text").attr("x", -22).attr("dy", null).attr("y", 10.8).attr("fill", "#000"));
  g.append("g").attr("transform", `translate(${f.l},0)`)
    .call(d3.axisLeft(y).tickValues(yMinor).tickSize(-8).tickFormat(""))
    .call(styleAxis);
  g.append("g").attr("transform", `translate(${f.r},0)`)
    .call(d3.axisRight(y).tickValues(yMajorTicks).tickSize(-15).tickFormat(""))
    .call(styleAxis);
  g.append("g").attr("transform", `translate(${f.r},0)`)
    .call(d3.axisRight(y).tickValues(yMinor).tickSize(-8).tickFormat(""))
    .call(styleAxis);

  g.append("rect").attr("x", f.l).attr("y", f.t).attr("width", f.r - f.l).attr("height", f.b - f.t)
    .attr("fill", "none").attr("stroke", "#000").attr("stroke-width", 2.5);

  // legend text (left)
  const L = legX[i];
  txt(g, legendHeads[i], L, f.t + 39, {fill: headColor[i]});
  txt(g, refValues[i][0], L, f.t + 75.5, {len: valLen[i][0]});
  if (refValues[i][1] === "------") {
    txt(g, refValues[i][1], L + 0.7, f.t + 113.4, {len: valLen[i][1], adj: "spacingAndGlyphs"});
  } else {
    txt(g, refValues[i][1], L, f.t + 113.8, {len: valLen[i][1]});
  }

  // mode labels (centre)
  const np = nuPos[i];
  txt(g, "\u03bd", np[0], f.t + 44.3, {italic: true});
  txt(g, modeLabels[i][0], np[1], f.t + 56.3, {size: 22});
  txt(g, "\u03bd", np[2], f.t + 44.3, {italic: true});
  txt(g, modeLabels[i][1], np[3], f.t + 56.3, {size: 22});

  // iwr values (right)
  txt(g, "iwr", rightEnd[i][0], f.t + 39, {fill: RED, anchor: "end"});
  txt(g, iwrValues[i][0], rightEnd[i][1], f.t + 75.5, {anchor: "end"});
  txt(g, iwrValues[i][1], rightEnd[i][1], f.t + 113.8, {anchor: "end"});
});

// x-axis labels
txt(svg, xAxisLabel, 555, 909, {size: 29, len: 234});
txt(svg, xAxisLabel, 555, 1583, {size: 29, len: 234});
</script>
</body></html>
